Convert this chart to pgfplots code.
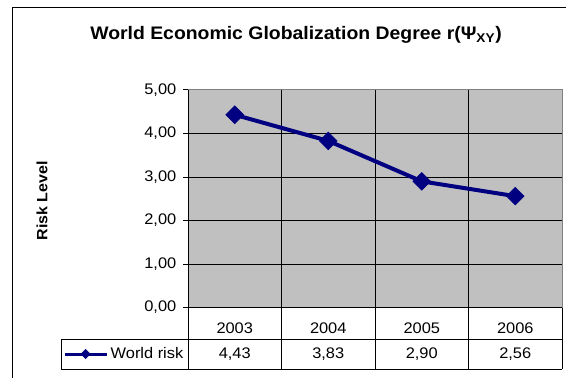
\documentclass[border=0pt]{standalone}
\usepackage{pgfplots}
\pgfplotsset{compat=1.18}
\usepackage{fontspec}
\setmainfont[FakeStretch=1.07]{Liberation Sans}
\definecolor{navyx}{RGB}{0,0,128}
\definecolor{plotgray}{RGB}{192,192,192}
\definecolor{bordergray}{RGB}{128,128,128}
\begin{document}
\begin{tikzpicture}[x=0.75pt,y=0.75pt]
\path[use as bounding box] (0,0) rectangle (566,378);
\draw[black,line width=0.75pt] (12,0) -- (12,370) -- (566,370);
\begin{axis}[
  at={(141pt,52.875pt)}, anchor=south west,
  scale only axis, width=280.5pt, height=163.125pt,
  clip=false,
  xmin=0.5, xmax=4.5, ymin=0, ymax=5,
  xtick={1,2,3,4}, xticklabels={2003,2004,2005,2006},
  xtick style={draw=none},
  xticklabel style={anchor=center, yshift=-12pt, font=\fontsize{11.5}{13}\selectfont},
  minor xtick={1.5,2.5,3.5}, xminorgrids, minor tick length=0pt,
  ytick={0,1,2,3,4,5}, ymajorgrids, ytick pos=left,
  tick align=outside, major tick length=3.75pt,
  ytick style={black, line width=0.75pt},
  major grid style={black, line width=0.75pt},
  minor grid style={black, line width=0.75pt},
  axis background/.style={fill=plotgray},
  axis line style={bordergray, line width=0.75pt},
  yticklabel style={font=\fontsize{11.5}{13}\selectfont, xshift=-1.5pt,
    /pgf/number format/.cd, fixed, fixed zerofill, precision=2, use comma, assume math mode=true},
  title={\textbf{World Economic Globalization Degree r(Ψ\textsubscript{XY})}},
  every axis title/.style={at={(axis description cs:0.2888,1.2299)}, anchor=base, font=\fontsize{13.6}{15}\selectfont},
  ylabel={Risk Level},
  ylabel style={at={(axis description cs:-0.3904,0.4897)}, anchor=center, rotate=0, font=\bfseries\fontsize{11.2}{13}\selectfont},
  legend style={at={(axis description cs:-0.1698,-0.2138)}, anchor=center, draw=none, fill=none,
    font=\fontsize{11.5}{13}\selectfont, inner sep=0pt},
  legend image code/.code={\draw[#1,line width=2.25pt,mark repeat=2,mark phase=2,mark size=2.4pt] plot coordinates {(0pt,0pt) (15.75pt,0pt) (31.5pt,0pt)};},
]
\addplot[navyx, line width=3pt, mark=square*, mark size=4.7pt,
  mark options={rotate=45, line width=0.5pt, fill=navyx}]
  coordinates {(1,4.43) (2,3.83) (3,2.90) (4,2.56)};
\addlegendentry{World risk}
\end{axis}
% data table
\begin{scope}[line width=0.75pt, black]
\draw (188,378-90) -- (188,378-369);
\draw (61,378-339) -- (562,378-339);
\draw (61,378-369) -- (562,378-369);
\draw (61,378-339) -- (61,378-369);
\draw (188,378-307.5) -- (562,378-307.5);
\foreach \xx in {281.5,375,468.5,562} \draw (\xx,378-307.5) -- (\xx,378-369);
\end{scope}
\begin{scope}[font=\fontsize{11.5}{13}\selectfont]
\node at (234.75,378-354) {4,43};
\node at (328.25,378-354) {3,83};
\node at (421.75,378-354) {2,90};
\node at (515.25,378-354) {2,56};
\end{scope}
\end{tikzpicture}
\end{document}
